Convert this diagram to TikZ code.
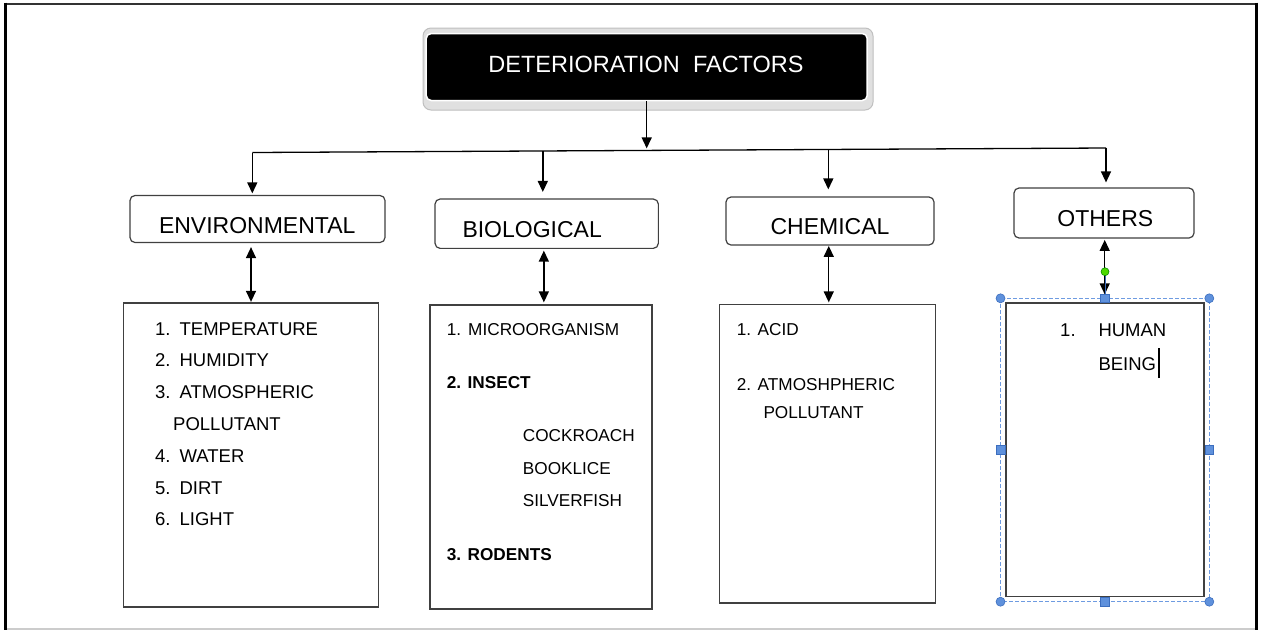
\documentclass[tikz,border=0pt]{standalone}
\usepackage{fontspec}
\setmainfont{Liberation Sans}
\usetikzlibrary{arrows.meta,calc}
\newcommand\myfs[1]{\fontsize{#1}{#1}\selectfont}
\definecolor{selblue}{RGB}{110,155,225}
\definecolor{handleblue}{RGB}{95,145,220}
\definecolor{handleedge}{RGB}{60,110,190}
\tikzset{
  arr/.style={line width=1.4pt, -{Triangle[length=11pt,width=10pt]}},
  darr/.style={line width=1.4pt, {Triangle[length=11pt,width=10pt]}-{Triangle[length=11pt,width=10pt]}},
  hdrbox/.style={draw=black!75, line width=1.2pt, rounded corners=5pt, fill=white, inner sep=0pt},
  lstbox/.style={draw=black!75, line width=1.3pt, fill=white, inner sep=0pt},
  hdrtxt/.style={anchor=base, inner sep=0pt, font=\myfs{23}, text=black},
  lsta/.style={anchor=base west, inner sep=0pt, font=\myfs{18.5}, text=black},
  lstb/.style={anchor=base west, inner sep=0pt, font=\myfs{17.2}, text=black},
  handle/.style={fill=handleblue, draw=handleedge, line width=0.6pt},
}
\begin{document}
\begin{tikzpicture}[x=1pt,y=-1pt]
\useasboundingbox (0,0) rectangle (1273,630);
\fill[white] (0,0) rectangle (1273,630);
% outer frame
\draw[line width=1.5pt, black!20] (7,629) -- (1256,629);
\draw[line width=2.2pt, black!80] (4.5,3.8) -- (1257.5,3.8);
\draw[line width=2.6pt, black] (5.4,2.7) -- (5.4,630);
\draw[line width=2.8pt, black] (1256.8,2.7) -- (1256.8,630);

% title
\node[draw=black!25, fill=black!12, line width=1pt, rounded corners=8pt, minimum width=450pt, minimum height=82pt, inner sep=0pt] (titleshadow) at (648,69) {};
\node[draw=white, line width=1.5pt, fill=black, rounded corners=5pt, minimum width=441pt, minimum height=67pt, inner sep=0pt] (title) at (646.7,67) {};
\node[anchor=base, inner sep=0pt, font=\myfs{23.5}, text=white] (titletxt) at (646,72.3) {DETERIORATION\ \ FACTORS};

% headers
\node[hdrbox, minimum width=255pt, minimum height=47pt] (envh) at (257.5,219) {};
\node[hdrbox, minimum width=223.3pt, minimum height=49.3pt] (bioh) at (546.7,223.7) {};
\node[hdrbox, minimum width=208pt, minimum height=48pt] (chemh) at (830,221) {};
\node[hdrbox, minimum width=180pt, minimum height=50pt] (othh) at (1104,213) {};
\node[hdrtxt] (envt) at (257.2,233) {ENVIRONMENTAL};
\node[hdrtxt, anchor=base west] (biot) at (462.3,237.3) {BIOLOGICAL};
\node[hdrtxt] (chemt) at (830,234) {CHEMICAL};
\node[hdrtxt] (otht) at (1105.3,226.7) {OTHERS};

% list boxes
\node[lstbox, minimum width=255pt, minimum height=304pt] (envl) at (251,455) {};
\node[lstbox, minimum width=222pt, minimum height=304pt] (biol) at (541,457) {};
\node[lstbox, minimum width=216pt, minimum height=298.5pt] (cheml) at (827.5,453.75) {};
\node[lstbox, minimum width=198pt, minimum height=293.5pt] (othl) at (1105,449.75) {};

% bus and connectors
\coordinate (busl) at (252.3,152.5);
\coordinate (busr) at (1106,148);
\coordinate (bust) at (646.7,150.4);
\coordinate (busb) at (542.8,151);
\coordinate (busc) at (828.3,149.5);
\draw[line width=1.3pt] (busl) -- (busr);
\draw[arr, shorten >=2pt] (title.south) -- (bust);
\draw[arr, shorten >=1.5pt] (busl) -- (busl |- envh.north);
\draw[arr, shorten >=6.5pt] (busb) -- (busb |- bioh.north);
\draw[arr, shorten >=7pt] (busc) -- (busc |- chemh.north);
\draw[arr, shorten >=5pt] (busr) -- (busr |- othh.north);

\draw[darr, shorten <=4pt, shorten >=0.5pt] (envl.north |- envh.south) -- (envl.north);
\path ($(bioh.south)!0.5!(biol.north)$) coordinate (biom);
\draw[darr, shorten <=1.7pt, shorten >=2pt] (biom |- bioh.south) -- (biom |- biol.north);
\path ($(chemh.south)!0.5!(cheml.north)$) coordinate (chemm);
\draw[darr, shorten <=0.3pt, shorten >=1.5pt] (chemm |- chemh.south) -- (chemm |- cheml.north);
\path ($(othh.south)!0.7!(othl.north)$) coordinate (othm);
\draw[darr, shorten <=1.3pt, shorten >=8pt] (othm |- othh.south) -- (othm |- othl.north);

% environmental list
\node[lsta] (e1) at (155,335) {1.\hspace{9pt}TEMPERATURE};
\node[lsta] (e2) at (155,366.7) {2.\hspace{9pt}HUMIDITY};
\node[lsta] (e3) at (155,398.5) {3.\hspace{9pt}ATMOSPHERIC};
\node[lsta] (e3b) at (173,430) {POLLUTANT};
\node[lsta] (e4) at (155,462.3) {4.\hspace{9pt}WATER};
\node[lsta] (e5) at (155,494) {5.\hspace{9pt}DIRT};
\node[lsta] (e6) at (155,525) {6.\hspace{9pt}LIGHT};

% biological list
\node[lstb] (b1) at (446.7,335) {1.\hspace{7pt}MICROORGANISM};
\node[lstb, font=\myfs{17.2}\bfseries] (b2) at (446.7,388.3) {2.\hspace{6.4pt}INSECT};
\node[lstb] (b2a) at (522.7,441.7) {COCKROACH};
\node[lstb] (b2b) at (522.7,474) {BOOKLICE};
\node[lstb] (b2c) at (522.7,506.7) {SILVERFISH};
\node[lstb, font=\myfs{17.2}\bfseries] (b3) at (446.7,560.7) {3.\hspace{6.4pt}RODENTS};

% chemical list
\node[lstb] (c1) at (736.7,335) {1.\hspace{6.5pt}ACID};
\node[lstb] (c2) at (736.7,390) {2.\hspace{6.5pt}ATMOSHPHERIC};
\node[lstb] (c2b) at (763.3,418.3) {POLLUTANT};

% others list
\node[lsta] (o1) at (1060,336) {1.};
\node[lsta] (human) at (1098.3,336) {HUMAN};
\node[lsta] (being) at (1098.3,370) {BEING};
\draw[line width=1.8pt, black] ($(being.base east)+(2.5,8)$) -- ++(0,-30);

% selection frame of the others list
\draw[selblue, line width=1.2pt, dash pattern=on 4pt off 2pt] (1000.5,298.3) rectangle (1209.3,601.7);
\draw[handleedge, line width=0.8pt] (1105,271.7) -- (1105,298.3);
\fill[green!75!black!60!lime, draw=green!50!black, line width=0.5pt] (1105,271.7) circle (4pt);
\foreach \p in {(1000.5,298.3),(1209.3,298.3),(1000.5,601.7),(1209.3,601.7)} {\draw[handle] \p circle (4.5pt);}
\foreach \p in {(1105,298.3),(1105,601.7),(1000.5,450),(1209.3,450)} {\draw[handle] \p +(-4.3pt,-4.3pt) rectangle +(4.3pt,4.3pt);}
\end{tikzpicture}
\end{document}
